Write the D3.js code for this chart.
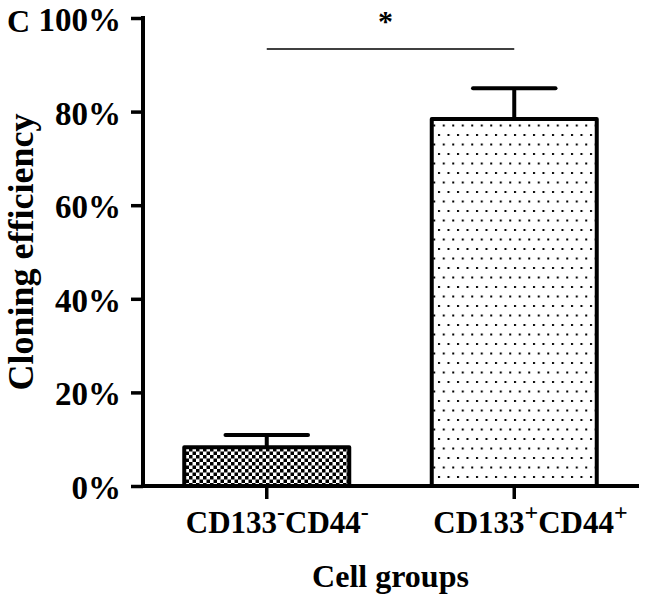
<!DOCTYPE html>
<html>
<head>
<meta charset="utf-8">
<script src="https://cdn.jsdelivr.net/npm/d3@7"></script>
<style>
  body { margin: 0; background: #fff; }
  text { font-family: "Liberation Serif", "Times New Roman", serif; font-weight: bold; fill: #000; }
</style>
</head>
<body>
<svg width="646" height="601"></svg>
<script>
// values
const groups = ["CD133", "CD133 "];      // base names (unique keys for the band scale)
const groupSecond = ["CD44", "CD44"];
const groupSigns = ["-", "+"];
const means = [0.083, 0.784];
const errors = [0.026, 0.066];
const yTicks = [0, 0.2, 0.4, 0.6, 0.8, 1.0];

let svg = d3.select("svg");

let x = d3.scaleBand()
  .domain(groups)
  .range([143, 638])
  .paddingInner(1 / 3)
  .paddingOuter(1 / 6);

let y = d3.scaleLinear()
  .domain([0, 1])
  .range([486, 18]);

// patterns
let defs = svg.append("defs");
let checker = defs.append("pattern")
  .attr("id", "checker")
  .attr("patternUnits", "userSpaceOnUse")
  .attr("width", 7).attr("height", 7);
checker.append("rect").attr("width", 7).attr("height", 7).attr("fill", "#fff");
checker.append("rect").attr("width", 3.5).attr("height", 3.5).attr("fill", "#000");
checker.append("rect").attr("x", 3.5).attr("y", 3.5).attr("width", 3.5).attr("height", 3.5).attr("fill", "#000");

let dots = defs.append("pattern")
  .attr("id", "dots")
  .attr("patternUnits", "userSpaceOnUse")
  .attr("width", 9.5).attr("height", 19);
dots.append("rect").attr("width", 9.5).attr("height", 19).attr("fill", "#fff");
dots.append("rect").attr("x", 1).attr("y", 1).attr("width", 2).attr("height", 2).attr("fill", "#000");
dots.append("rect").attr("x", 5.75).attr("y", 10.5).attr("width", 2).attr("height", 2).attr("fill", "#000");

let fills = ["url(#checker)", "url(#dots)"];

// error bars (upper only)
let eb = svg.append("g");
groups.forEach((g, i) => {
  let cx = x(g) + x.bandwidth() / 2;
  eb.append("line")
    .attr("x1", cx).attr("x2", cx)
    .attr("y1", y(means[i])).attr("y2", y(means[i] + errors[i]))
    .attr("stroke", "#000").attr("stroke-width", 4);
  eb.append("line")
    .attr("x1", cx - x.bandwidth() / 4).attr("x2", cx + x.bandwidth() / 4)
    .attr("y1", y(means[i] + errors[i])).attr("y2", y(means[i] + errors[i]))
    .attr("stroke", "#000").attr("stroke-width", 4)
    .attr("stroke-linecap", "round");
});

// bars
svg.append("g")
  .selectAll("rect")
  .data(groups)
  .enter().append("rect")
    .attr("x", d => x(d))
    .attr("width", x.bandwidth())
    .attr("y", (d, i) => y(means[i]))
    .attr("height", (d, i) => y(0) - y(means[i]))
    .attr("fill", (d, i) => fills[i])
    .attr("stroke", "#000")
    .attr("stroke-width", 4)
    .attr("stroke-linejoin", "round");

// y axis
let yAxis = svg.append("g")
  .attr("transform", "translate(143,0)")
  .call(d3.axisLeft(y)
    .tickValues(yTicks)
    .tickSize(12)
    .tickSizeOuter(0)
    .tickFormat(d3.format(".0%")));
yAxis.select(".domain").attr("stroke-width", 4).attr("d", "M0,16V486");
yAxis.selectAll(".tick line").attr("stroke-width", 3.5);
yAxis.selectAll(".tick text")
  .attr("x", -22)
  .attr("dy", "0.38em")
  .style("font-family", "Liberation Serif")
  .style("font-weight", "bold")
  .style("font-size", "33px");

// x axis
let xAxis = svg.append("g")
  .attr("transform", "translate(0,486)")
  .call(d3.axisBottom(x)
    .tickSize(13)
    .tickSizeOuter(0)
    .tickFormat(""));
xAxis.select(".domain").attr("stroke-width", 4).attr("d", "M143,0H639");
xAxis.selectAll(".tick line").attr("stroke-width", 3.5);

// category labels with superscripts
groups.forEach((g, i) => {
  let t = svg.append("text")
    .attr("x", x(g) + x.bandwidth() / 2 - 81)
    .attr("y", 533)
    .style("font-size", "31px");
  t.append("tspan").text(g.trim());
  t.append("tspan").attr("dy", -13).style("font-size", "24px").text(groupSigns[i]);
  t.append("tspan").attr("dy", 13).text(groupSecond[i]);
  t.append("tspan").attr("dy", -13).style("font-size", "24px").text(groupSigns[i]);
});

// axis titles
svg.append("text")
  .attr("x", (x.range()[0] + x.range()[1]) / 2)
  .attr("y", 587)
  .attr("text-anchor", "middle")
  .style("font-size", "32px")
  .text("Cell groups");

svg.append("text")
  .attr("transform", `translate(33,${(y(0) + y(1)) / 2}) rotate(-90)`)
  .attr("text-anchor", "middle")
  .style("font-size", "36px")
  .text("Cloning efficiency");

// panel letter
svg.append("text")
  .attr("x", 7).attr("y", 32)
  .style("font-size", "32px")
  .text("C");

// significance bracket
let c0 = x(groups[0]) + x.bandwidth() / 2;
let c1 = x(groups[1]) + x.bandwidth() / 2;
svg.append("line")
  .attr("x1", c0).attr("x2", c1)
  .attr("y1", 49).attr("y2", 49)
  .attr("stroke", "#000").attr("stroke-width", 1.5);
svg.append("text")
  .attr("x", (c0 + c1) / 2 - 5).attr("y", 31)
  .attr("text-anchor", "middle")
  .style("font-size", "30px")
  .text("*");
</script>
</body>
</html>
